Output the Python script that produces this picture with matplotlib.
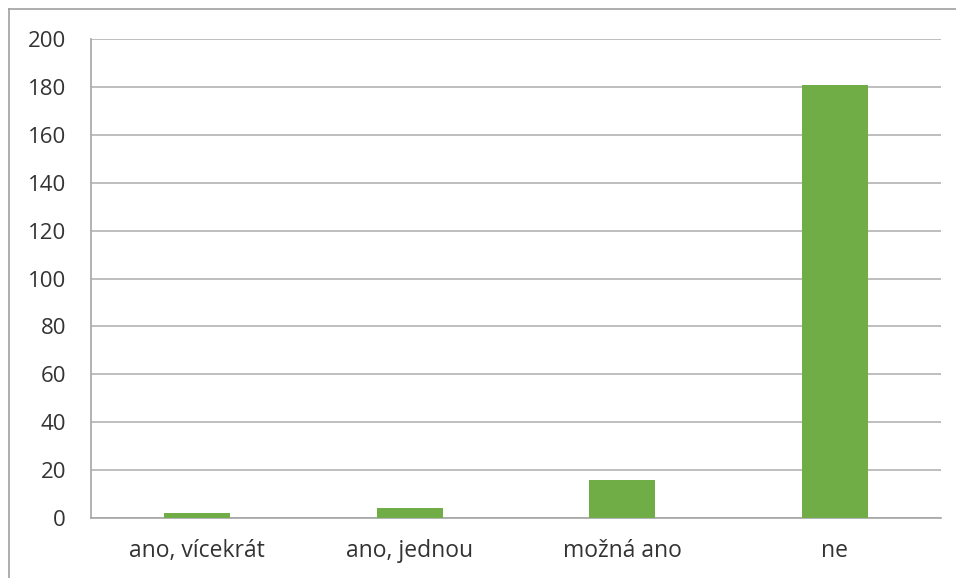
import matplotlib.pyplot as plt
from matplotlib.lines import Line2D

categories = ["ano, vícekrát", "ano, jednou", "možná ano", "ne"]
values = [2, 4, 16, 181]
yticks = list(range(0, 201, 20))

plt.rcParams["font.family"] = ["Open Sans", "DejaVu Sans"]

fig = plt.figure(figsize=(9.56, 5.78), dpi=100)
ax = fig.add_axes([0.0952, 0.1038, 0.8891, 0.8287])

x = range(len(categories))
ax.bar(x, values, width=0.31, color="#70AD47", zorder=3)

ax.set_xlim(-0.5, len(categories) - 0.5)
ax.set_ylim(0, 200)
ax.set_yticks(yticks)
ax.set_xticks(list(x))
ax.set_xticklabels(categories)
ax.grid(axis="y", color="#b3b3b3", linewidth=1.2, zorder=0)
ax.tick_params(axis="both", length=0, labelcolor="#333333")
ax.tick_params(axis="y", pad=18, labelsize=16)
ax.tick_params(axis="x", pad=15, labelsize=16.5)

for s in ["top", "right"]:
    ax.spines[s].set_visible(False)
for s in ["left", "bottom"]:
    ax.spines[s].set_color("#a6a6a6")
    ax.spines[s].set_linewidth(1.2)

# outer chart border (only left and top edges show in the image)
fig.add_artist(Line2D([8.5 / 956, 8.5 / 956], [0, 1 - 9 / 578], color="#a0a0a0", lw=1.2))
fig.add_artist(Line2D([8.5 / 956, 1], [1 - 9 / 578, 1 - 9 / 578], color="#a0a0a0", lw=1.2))

plt.savefig("out.png", dpi=100)
